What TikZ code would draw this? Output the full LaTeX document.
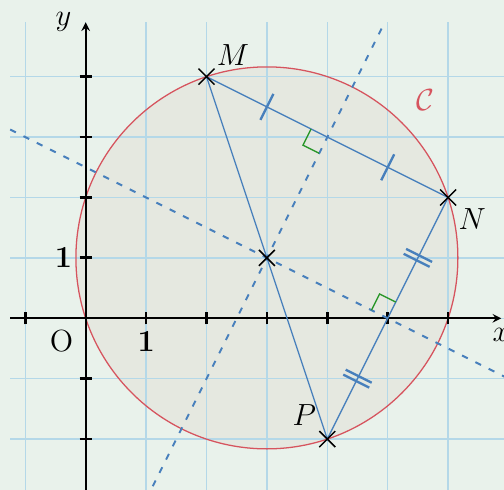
\documentclass[tikz,border=0pt]{standalone}
\usetikzlibrary{calc, shapes.misc}

\definecolor{fondo}{RGB}{233,242,235}
\definecolor{relleno}{RGB}{229,232,224}
\definecolor{rejilla}{RGB}{180,216,232}
\definecolor{azul}{RGB}{72,128,188}
\definecolor{rojo}{RGB}{214,84,94}
\definecolor{verde}{RGB}{40,150,40}

\begin{document}
\begin{tikzpicture}[>=stealth,
	segmento/.style={color=azul, line width=0.6pt},
	mediatriz/.style={color=azul, line width=0.9pt, dash pattern=on 3pt off 4pt},
	marca/.style={color=azul, line width=1.1pt},
	recto/.style={color=verde, line width=0.6pt},
	cruz/.style={cross out, draw=black, line width=0.7pt, minimum size=0.24cm, inner sep=0pt},
	cuadricula/.style={color=rejilla, line width=0.7pt},
	graduacion/.style={line width=1.3pt}]
		
		% Parámetros del dibujo
		\def\R{sqrt(10)}  % Radio del círculo C
		\def\t{0.24}      % Media longitud de las marcas de igualdad
		\def\a{0.3}       % Lado del ángulo recto
		
		% --- 0. MARCO ---
		\useasboundingbox[fill=fondo] (-1.419,-2.843) rectangle (6.926,5.27);
		\clip (-1.419,-2.843) rectangle (6.926,5.27);
		
		% --- 1. PUNTOS ---
		\coordinate (O) at (0,0);
		\coordinate (M) at (2,4);
		\coordinate (N) at (6,2);
		\coordinate (P) at (4,-2);
		\coordinate (Centro) at (3,1);
		\coordinate (MedioMN) at ($(M)!0.5!(N)$);
		\coordinate (MedioNP) at ($(N)!0.5!(P)$);
		
		% --- 2. CÍRCULO Y CUADRÍCULA ---
		\fill[relleno] (Centro) circle ({\R});
		\draw[cuadricula] (-1.25,-3) grid (7.2,4.9);
		\draw[rojo, line width=0.6pt] (Centro) circle ({\R});
		\node[text=rojo] (nombreC) at (5.62,3.62) {\Large$\mathcal{C}$};
		
		% --- 3. EJES ---
		\draw[->, line width=0.8pt] (-1.25,0) -- (6.88,0) node[below=1pt] (ejeX) {\Large$x$};
		\draw[->, line width=0.8pt] (0,-3) -- (0,4.9) node[left=3pt] (ejeY) {\Large$y$};
		\foreach \i in {-1,1,2,3,4,5,6} \draw[graduacion] (\i,-0.1) -- (\i,0.1);
		\foreach \j in {-2,-1,1,2,3,4} \draw[graduacion] (-0.1,\j) -- (0.1,\j);
		\node (origen) at (-0.4,-0.38) {\Large O};
		\node (unoX) at (1,-0.38) {\Large$\mathbf{1}$};
		\node (unoY) at (-0.37,1) {\Large$\mathbf{1}$};
		
		% --- 4. MEDIATRICES ---
		\draw[mediatriz] ($(Centro)!-2!(MedioMN)$) -- ($(Centro)!1.95!(MedioMN)$);
		\draw[mediatriz] ($(Centro)!-2.125!(MedioNP)$) -- ($(Centro)!2.1!(MedioNP)$);
		
		% --- 5. TRIÁNGULO ---
		\draw[segmento] (M) -- (N) -- (P) -- cycle;
		
		% Marcas simples sobre [MN]
		\coordinate (Q1) at ($(M)!0.25!(N)$);
		\coordinate (Q2) at ($(M)!0.75!(N)$);
		\draw[marca] ($(Q1)!\t cm!90:(N)$) -- ($(Q1)!\t cm!-90:(N)$);
		\draw[marca] ($(Q2)!\t cm!90:(N)$) -- ($(Q2)!\t cm!-90:(N)$);
		
		% Marcas dobles sobre [NP]
		\coordinate (R1) at ($(N)!0.25!(P)$);
		\coordinate (R2) at ($(N)!0.75!(P)$);
		\coordinate (R1a) at ($(R1)!0.045cm!(N)$);
		\coordinate (R1b) at ($(R1)!-0.045cm!(N)$);
		\coordinate (R2a) at ($(R2)!0.045cm!(N)$);
		\coordinate (R2b) at ($(R2)!-0.045cm!(N)$);
		\draw[marca] ($(R1a)!\t cm!90:(N)$) -- ($(R1a)!\t cm!-90:(N)$);
		\draw[marca] ($(R1b)!\t cm!90:(N)$) -- ($(R1b)!\t cm!-90:(N)$);
		\draw[marca] ($(R2a)!\t cm!90:(N)$) -- ($(R2a)!\t cm!-90:(N)$);
		\draw[marca] ($(R2b)!\t cm!90:(N)$) -- ($(R2b)!\t cm!-90:(N)$);
		
		% Ángulos rectos
		\coordinate (A1) at ($(MedioMN)!\a cm!(M)$);
		\coordinate (B1) at ($(MedioMN)!\a cm!(Centro)$);
		\draw[recto] (A1) -- ($(A1)+(B1)-(MedioMN)$) -- (B1);
		\coordinate (A2) at ($(MedioNP)!\a cm!(N)$);
		\coordinate (B2) at ($(MedioNP)!\a cm!(Centro)$);
		\draw[recto] (A2) -- ($(A2)+(B2)-(MedioNP)$) -- (B2);
		
		% --- 6. CRUCES Y NOMBRES ---
		\node[cruz] (cruzM) at (M) {};
		\node[cruz] (cruzN) at (N) {};
		\node[cruz] (cruzP) at (P) {};
		\node[cruz] (cruzCentro) at (Centro) {};
		\node (nombreM) at ($(M)+(0.44,0.36)$) {\Large$M$};
		\node (nombreN) at ($(N)+(0.4,-0.35)$) {\Large$N$};
		\node (nombreP) at ($(P)+(-0.38,0.4)$) {\Large$P$};
		
	\end{tikzpicture}
\end{document}
